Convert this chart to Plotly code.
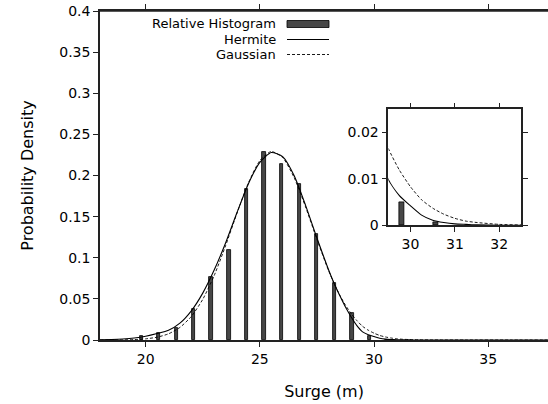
import plotly.graph_objects as go

# Histogram bins (centres) and relative frequencies
bin_centers = [19.82, 20.55, 21.34, 22.10, 22.87, 23.65, 24.41, 25.19, 25.96,
               26.73, 27.49, 28.27, 29.04, 29.80, 30.57]
rel_freq = [0.005, 0.008, 0.015, 0.038, 0.077, 0.109, 0.184, 0.229, 0.214,
            0.190, 0.129, 0.069, 0.033, 0.005, 0.0006]

# Curves
curve_x = [18.0, 18.5, 19.0, 19.5, 20.0, 20.5, 21.0, 21.5, 22.0, 22.5, 23.0,
           23.5, 24.0, 24.5, 25.0, 25.5, 26.0, 26.5, 27.0, 27.5, 28.0, 28.25,
           28.5, 28.75, 29.0, 29.25, 29.5, 29.75, 30.0, 30.25, 30.5, 30.75,
           31.0, 31.25, 31.5, 32.0, 32.5, 33.0, 34.0, 36.0, 38.0]
hermite = [0.0003, 0.0006, 0.0012, 0.0024, 0.0045, 0.0078, 0.0118, 0.0205,
           0.0355, 0.057, 0.085, 0.118, 0.155, 0.190, 0.216, 0.228, 0.223,
           0.200, 0.164, 0.124, 0.086, 0.069, 0.054, 0.040, 0.028, 0.0175,
           0.0099, 0.0064, 0.0042, 0.0022, 0.0011, 0.0006, 0.0003, 0.0002,
           0.0001, 0.00003, 0.00001, 0.0, 0.0, 0.0, 0.0]
gaussian = [0.00002, 0.00006, 0.0002, 0.0005, 0.0014, 0.0034, 0.0075, 0.0153,
            0.0286, 0.0494, 0.0783, 0.1146, 0.1542, 0.1911, 0.2181, 0.2292,
            0.2218, 0.1976, 0.1620, 0.1224, 0.0851, 0.0690, 0.0545, 0.0424,
            0.0321, 0.0236, 0.0166, 0.0119, 0.0083, 0.0055, 0.0037, 0.0024,
            0.0015, 0.0009, 0.0006, 0.0002, 0.00007, 0.00002, 0.0, 0.0, 0.0]

main_xticks = [20, 25, 30, 35]
main_yticks = [0, 0.05, 0.1, 0.15, 0.2, 0.25, 0.3, 0.35, 0.4]
main_yticklabels = ["0", "0.05", "0.1", "0.15", "0.2", "0.25", "0.3", "0.35", "0.4"]
inset_xticks = [30, 31, 32]
inset_yticks = [0, 0.01, 0.02]
inset_yticklabels = ["0", "0.01", "0.02"]

legend_labels = ["Relative Histogram", "Hermite", "Gaussian"]

FONT = "DejaVu Sans, Liberation Sans, Arial, sans-serif"
BAR_FILL = "#474747"
AXIS_COLOR = "#222222"
TICK_SIZE = 14
LEG_SIZE = 13
TITLE_SIZE = 16
X_RANGE = [18, 37.62]

fig = go.Figure()

for xa, ya, w in (("x", "y", 0.15), ("x2", "y2", 0.12)):
    fig.add_trace(go.Bar(x=bin_centers, y=rel_freq, width=w, xaxis=xa, yaxis=ya,
                         marker=dict(color=BAR_FILL, line=dict(color="black", width=0.8)),
                         showlegend=False))
    fig.add_trace(go.Scatter(x=curve_x, y=hermite, mode="lines", xaxis=xa, yaxis=ya,
                             line=dict(color="black", width=1.1, shape="spline", smoothing=0.6),
                             showlegend=False))
    fig.add_trace(go.Scatter(x=curve_x, y=gaussian, mode="lines", xaxis=xa, yaxis=ya,
                             line=dict(color="black", width=0.9, dash="3px,2px",
                                       shape="spline", smoothing=0.6),
                             showlegend=False))

axis_common = dict(showgrid=False, zeroline=False, showline=True, linecolor=AXIS_COLOR,
                   linewidth=1.5, ticks="outside", ticklen=5, tickcolor=AXIS_COLOR,
                   tickwidth=1, tickfont=dict(family=FONT, size=TICK_SIZE, color="black"))

fig.update_layout(
    width=548, height=404,
    margin=dict(l=100, r=0, t=11, b=64),
    paper_bgcolor="white", plot_bgcolor="white",
    bargap=0,
    font=dict(family=FONT, size=TICK_SIZE, color="black"),
    xaxis=dict(range=X_RANGE, tickvals=main_xticks, mirror="ticks",
               title=dict(text="Surge (m)", font=dict(family=FONT, size=TITLE_SIZE),
                          standoff=20),
               **axis_common),
    yaxis=dict(range=[0, 0.4], tickvals=main_yticks, ticktext=main_yticklabels,
               title=dict(text="Probability Density", font=dict(family=FONT, size=TITLE_SIZE),
                          standoff=22),
               **axis_common),
    xaxis2=dict(domain=[0.6435, 0.9408], anchor="y2", range=[29.5, 32.5],
                tickvals=inset_xticks, mirror="ticks", **axis_common),
    yaxis2=dict(domain=[0.3486, 0.7012], anchor="x2", range=[0, 0.025],
                tickvals=inset_yticks, ticktext=inset_yticklabels, mirror="ticks",
                **axis_common),
    showlegend=False,
)

# Top border of the main frame, reinforced as a layout shape
fig.add_shape(type="line", xref="paper", yref="paper", x0=0, x1=1, y0=1, y1=1,
              line=dict(color=AXIS_COLOR, width=1.5), layer="above")

# Custom legend (text on the left, key on the right, as in the reference)
px_x = lambda p: (p - 100) / 448
px_y = lambda p: (340 - p) / 329
rows_y = [24, 39.5, 54.5]
for label, yy in zip(legend_labels, rows_y):
    fig.add_annotation(xref="paper", yref="paper", x=px_x(278), y=px_y(yy), text=label,
                       showarrow=False, xanchor="right", yanchor="middle",
                       font=dict(family=FONT, size=LEG_SIZE, color="black"))
fig.add_shape(type="rect", xref="paper", yref="paper",
              x0=px_x(287), x1=px_x(329), y0=px_y(27.5), y1=px_y(20.5),
              fillcolor=BAR_FILL, line=dict(color="black", width=0.8))
fig.add_shape(type="line", xref="paper", yref="paper",
              x0=px_x(287), x1=px_x(329), y0=px_y(rows_y[1]), y1=px_y(rows_y[1]),
              line=dict(color="black", width=1.1))
fig.add_shape(type="line", xref="paper", yref="paper",
              x0=px_x(287), x1=px_x(329), y0=px_y(rows_y[2]), y1=px_y(rows_y[2]),
              line=dict(color="black", width=0.9, dash="3px,2px"))

# Remove the default page margin so the 548x404 figure fills the window exactly
fig.write_html("out.html", config={"displayModeBar": False},
               post_script="document.body.style.margin='0';")
